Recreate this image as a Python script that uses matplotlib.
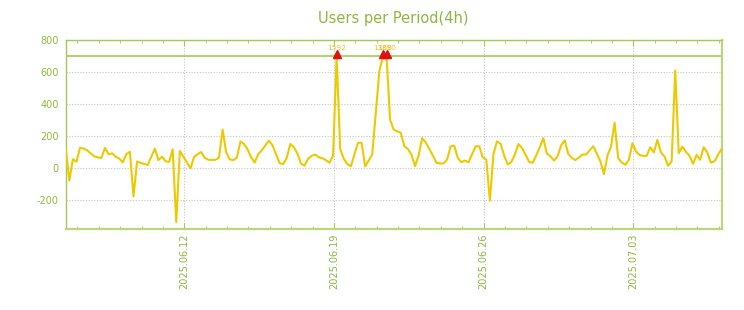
import matplotlib
matplotlib.use("Agg")
import matplotlib.pyplot as plt
import matplotlib.dates as mdates
import matplotlib.transforms as mtransforms
from matplotlib.ticker import FixedLocator
import numpy as np
import pandas as pd

plt.rcParams["axes.unicode_minus"] = False

title = "Users per Period(4h)"
start = "2025-06-06 11:00"
period = "4h"
users = [
    120, -80, 54, 38, 125, 121, 110, 90, 72, 65,
    62, 125, 85, 90, 70, 58, 34, 86, 100, -180,
    39, 31, 24, 17, 70, 120, 48, 70, 41, 37,
    116, -342, 106, 70, 33, -4, 68, 85, 99, 62,
    50, 49, 50, 64, 240, 98, 54, 47, 64, 165,
    150, 116, 66, 33, 85, 110, 141, 170, 141, 85,
    29, 23, 62, 149, 130, 89, 27, 14, 56, 75,
    83, 66, 60, 48, 31, 77, 1592, 118, 56, 23,
    9, 85, 157, 157, 9, 45, 85, 350, 610, 1368,
    1390, 302, 240, 229, 220, 135, 118, 83, 10, 77,
    186, 159, 118, 77, 31, 27, 27, 52, 135, 139,
    62, 35, 45, 35, 85, 135, 135, 66, 52, -207,
    87, 166, 151, 77, 21, 35, 83, 149, 124, 83,
    37, 31, 77, 130, 186, 89, 72, 45, 72, 141,
    172, 87, 62, 48, 65, 83, 83, 110, 135, 89,
    41, -41, 77, 135, 284, 60, 33, 19, 50, 154,
    102, 80, 75, 75, 129, 96, 175, 96, 71, 12,
    40, 611, 92, 133, 100, 75, 25, 81, 50, 129,
    96, 33, 40, 81, 117,
]
y_limit = 700
y_ticks = [-200, 0, 200, 400, 600, 800]
x_ticks = ["2025-06-12", "2025-06-19", "2025-06-26", "2025-07-03"]

text_color = "#8cb83c"
spine_color = "#a6c956"
line_color = "#eec900"

times = pd.date_range(start, periods=len(users), freq=period)
tnum = mdates.date2num(times.to_pydatetime())
vals = np.array(users, dtype=float)
shown = np.minimum(vals, y_limit)

fig = plt.figure(figsize=(7.44, 3.10), dpi=100)
left, right, bottom, top = 0.0884, 0.9698, 0.2613, 0.8694
ax = fig.add_axes([left, bottom, right - left, top - bottom])

ax.plot(tnum, shown, color=line_color, lw=1.5, solid_joinstyle="round", zorder=3)
ax.axhline(y_limit, color="#9cc643", lw=1.1, zorder=2)

over = vals > y_limit
tri_tr = mtransforms.offset_copy(ax.transData, fig=fig, y=2.5, units="dots")
ax.plot(tnum[over], np.full(over.sum(), y_limit), ls="none", marker="^", ms=5.5,
        color="#e01010", transform=tri_tr, zorder=4, clip_on=False)
for t, v in zip(tnum[over], vals[over]):
    ax.annotate(f"{int(v)}", (t, y_limit), xytext=(0, 4.3), textcoords="offset points",
                ha="center", va="baseline", fontsize=5.4, color="#f0c030", annotation_clip=False)

ax.set_xlim(tnum[0], tnum[-1])
ax.set_ylim(-385, 800)
ax.set_yticks(y_ticks)
ax.xaxis.set_major_locator(FixedLocator(mdates.date2num(pd.to_datetime(x_ticks).to_pydatetime())))
ax.xaxis.set_major_formatter(mdates.DateFormatter("%Y.%m.%d"))
ax.xaxis.set_minor_locator(mdates.DayLocator())

ax.tick_params(axis="x", which="both", direction="in", top=True, bottom=True,
               colors=spine_color, labelcolor=text_color, labelsize=7, pad=3)
ax.tick_params(axis="x", which="major", length=4, labelrotation=90)
ax.tick_params(axis="x", which="minor", length=2)
ax.tick_params(axis="y", length=0, labelcolor=text_color, labelsize=7, pad=5)

ax.grid(True, which="major", color="#c4c4c4", ls=(0, (1, 1.5)), lw=0.8, zorder=1)
ax.set_axisbelow(True)

for side in ["left", "top"]:
    ax.spines[side].set_color(spine_color)
    ax.spines[side].set_linewidth(1.0)
for side in ["bottom", "right"]:
    ax.spines[side].set_color("#bcd67a")
    ax.spines[side].set_linewidth(1.6)

fig.text((left + right) / 2, 1 - 18 / 310, title, ha="center", va="center",
         fontsize=10.5, color=text_color)

fig.savefig("out.png", dpi=100)
